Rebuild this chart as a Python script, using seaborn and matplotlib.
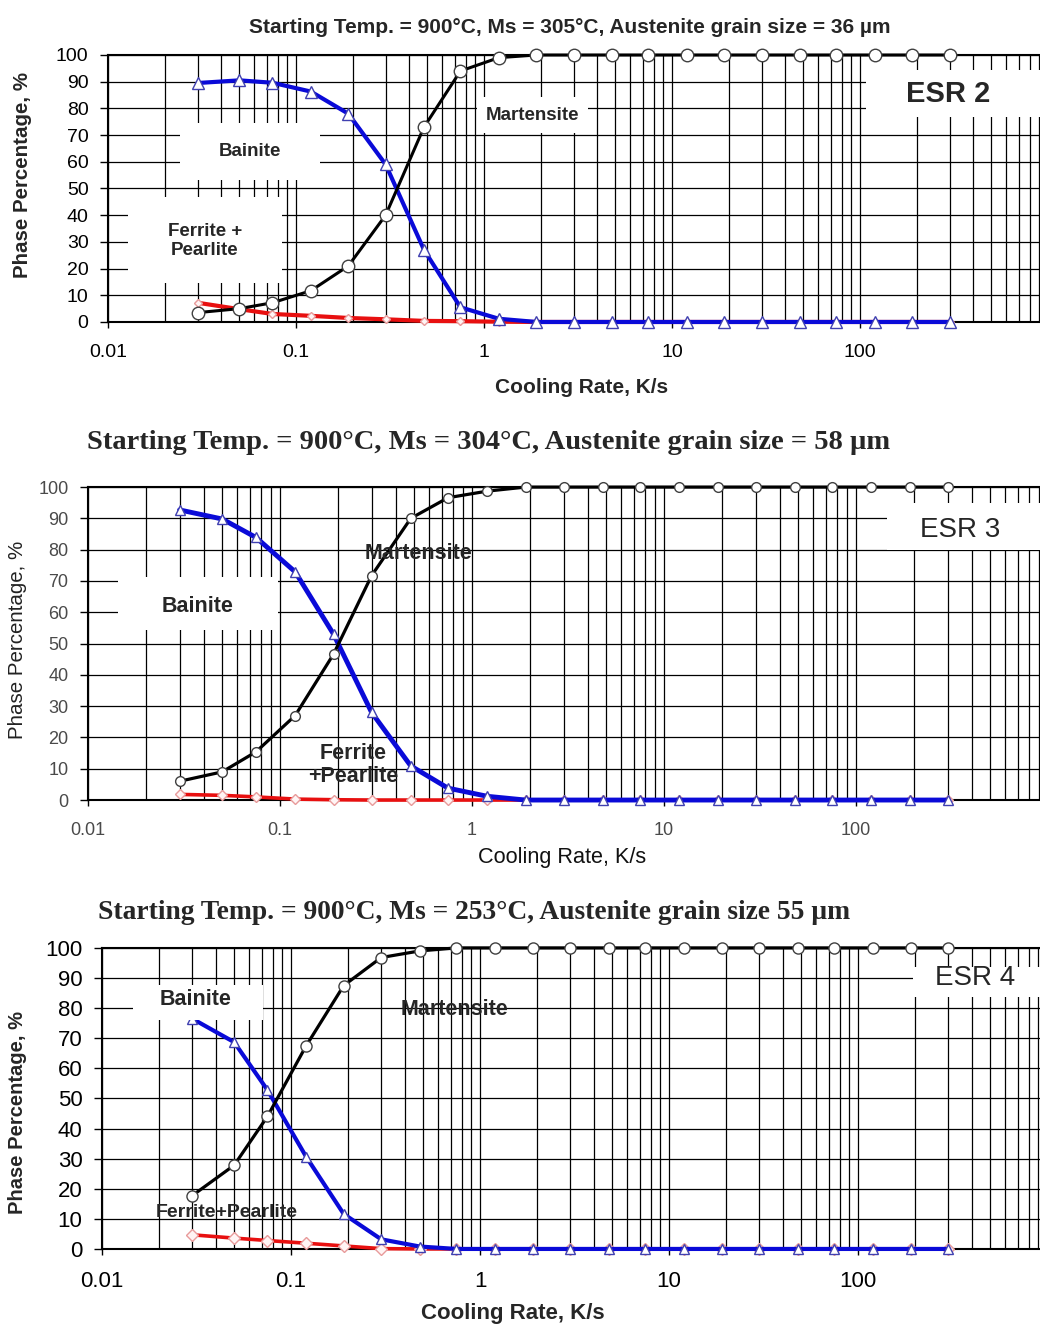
import matplotlib
matplotlib.use("Agg")
import matplotlib.pyplot as plt
import seaborn as sns
from matplotlib.patches import Rectangle

sns.set_style("ticks")
plt.rcParams['font.family'] = ['Liberation Sans', 'DejaVu Sans']
plt.rcParams['axes.unicode_minus'] = False

# cooling rates (K/s), same for all three steels
RATE = [0.03, 0.05, 0.075, 0.12, 0.19, 0.3, 0.48, 0.75, 1.2, 1.9, 3, 4.8,
        7.5, 12, 19, 30, 48, 75, 120, 190, 300]

ESR2_FP = [7.2, 4.8, 3.0, 2.3, 1.5, 1.0, 0.4, 0.3, 0.1, 0, 0, 0,
           0, 0, 0, 0, 0, 0, 0, 0, 0]
ESR2_BAIN = [89.5, 90.5, 89.6, 86.3, 78.0, 59.0, 27.0, 5.5, 1.2, 0, 0, 0,
             0, 0, 0, 0, 0, 0, 0, 0, 0]
ESR2_MART = [3.5, 5.0, 7.2, 11.7, 21.0, 40.0, 73.0, 94.0, 99.0, 100, 100, 100,
             100, 100, 100, 100, 100, 100, 100, 100, 100]

ESR3_FP = [1.8, 1.5, 1.0, 0.3, 0.1, 0, 0, 0, 0, 0, 0, 0,
           0, 0, 0, 0, 0, 0, 0, 0, 0]
ESR3_BAIN = [92.7, 89.8, 83.9, 72.9, 53.0, 28.0, 10.9, 3.8, 1.2, 0, 0, 0,
             0, 0, 0, 0, 0, 0, 0, 0, 0]
ESR3_MART = [6.0, 9.0, 15.4, 27.0, 46.6, 71.7, 90.0, 96.6, 98.7, 100, 100, 100,
             100, 100, 100, 100, 100, 100, 100, 100, 100]

ESR4_FP = [4.7, 3.6, 2.8, 1.9, 1.0, 0.1, 0, 0, 0, 0, 0, 0,
           0, 0, 0, 0, 0, 0, 0, 0, 0]
ESR4_BAIN = [76.5, 68.7, 52.8, 30.7, 11.6, 3.2, 0.8, 0, 0, 0, 0, 0,
             0, 0, 0, 0, 0, 0, 0, 0, 0]
ESR4_MART = [17.7, 27.8, 44.0, 67.4, 87.5, 96.8, 99.0, 100, 100, 100, 100, 100,
             100, 100, 100, 100, 100, 100, 100, 100, 100]

TITLES = [
    "Starting Temp. = 900°C, Ms = 305°C, Austenite grain size = 36 µm",
    "Starting Temp. = 900°C, Ms = 304°C, Austenite grain size = 58 µm",
    "Starting Temp. = 900°C, Ms = 253°C, Austenite grain size 55 µm",
]
XTICKS = [0.01, 0.1, 1, 10, 100]
XTICK_LABELS = ["0.01", "0.1", "1", "10", "100"]
YTICKS = [0, 10, 20, 30, 40, 50, 60, 70, 80, 90, 100]
MINOR = [k * 10.0 ** e for e in range(-2, 3) for k in range(2, 10)]

fig = plt.figure(figsize=(10.4, 13.25), dpi=100)


def draw_panel(rect, fp, bain, mart, lw, ms, tick_fs, tick_color):
    ax = fig.add_axes(rect)
    ax.set_xscale("log")
    sns.lineplot(x=RATE, y=fp, ax=ax, estimator=None, color="#e81010", linewidth=lw[0],
                 marker="D", markersize=ms[0], markerfacecolor="#fff4f4",
                 markeredgecolor="#e89a9a", markeredgewidth=1, clip_on=False, zorder=3)
    sns.lineplot(x=RATE, y=bain, ax=ax, estimator=None, color="#0a0ad8", linewidth=lw[1],
                 marker="^", markersize=ms[1], markerfacecolor="white",
                 markeredgecolor="#4040b0", markeredgewidth=1, clip_on=False, zorder=3.5)
    sns.lineplot(x=RATE, y=mart, ax=ax, estimator=None, color="black", linewidth=lw[2],
                 marker="o", markersize=ms[2], markerfacecolor="white",
                 markeredgecolor="#404040", markeredgewidth=1, clip_on=False, zorder=4)
    ax.set_xlim(0.01, 1000)
    ax.set_ylim(0, 100)
    ax.set_xticks(XTICKS)
    ax.set_xticks(MINOR, minor=True)
    ax.set_xticklabels(XTICK_LABELS)
    ax.set_yticks(YTICKS)
    ax.set_axisbelow(True)
    ax.grid(True, which="both", axis="x", color="black", linewidth=0.9)
    ax.grid(True, which="major", axis="y", color="black", linewidth=0.9)
    ax.tick_params(axis="y", direction="out", length=6, width=1, pad=8,
                   labelsize=tick_fs, labelcolor=tick_color, color="black")
    ax.tick_params(axis="x", which="major", direction="out", length=4, width=1, pad=12,
                   labelsize=tick_fs, labelcolor=tick_color, color="black")
    ax.tick_params(axis="x", which="minor", length=0)
    for s in ax.spines.values():
        s.set_color("black")
        s.set_linewidth(1.5)
    return ax


def box(ax, x0, y0, x1, y1):
    ax.add_patch(Rectangle((x0, y0), x1 - x0, y1 - y0, transform=ax.transAxes,
                           facecolor="white", edgecolor="none", zorder=5, clip_on=False))


def label(ax, x, y, s, fs, weight="bold"):
    ax.text(x, y, s, transform=ax.transAxes, ha="center", va="center",
            fontsize=fs, fontweight=weight, zorder=6, linespacing=1.1)


# ---- ESR 2 ----
ax1 = draw_panel([0.1038, 0.7570, 0.9038, 0.2015], ESR2_FP, ESR2_BAIN, ESR2_MART,
                 lw=(3.0, 3.0, 2.2), ms=(4, 9, 9), tick_fs=14, tick_color="black")
box(ax1, 0.0766, 0.532, 0.2255, 0.745)
box(ax1, 0.0213, 0.146, 0.185, 0.468)
box(ax1, 0.3926, 0.708, 0.5106, 0.843)
box(ax1, 0.807, 0.768, 1.0, 0.944)
label(ax1, 0.151, 0.640, "Bainite", 13.5)
label(ax1, 0.103, 0.303, "Ferrite +\nPearlite", 13.5)
label(ax1, 0.452, 0.775, "Martensite", 13.5)
label(ax1, 0.894, 0.854, "ESR 2", 21)
fig.text(0.548, 0.9796, TITLES[0], ha="center", va="center", fontsize=15, fontweight="bold")
fig.text(0.0212, 0.868, "Phase Percentage, %", rotation=90, ha="center", va="center",
         fontsize=14.8, fontweight="bold")
fig.text(0.559, 0.7072, "Cooling Rate, K/s", ha="center", va="center", fontsize=15,
         fontweight="bold")

# ---- ESR 3 ----
ax2 = draw_panel([0.0846, 0.3962, 0.9231, 0.2362], ESR3_FP, ESR3_BAIN, ESR3_MART,
                 lw=(2.6, 3.5, 2.3), ms=(5.5, 7.5, 7), tick_fs=13, tick_color="#4a4a4a")
box(ax2, 0.031, 0.543, 0.198, 0.712)
box(ax2, 0.832, 0.799, 1.0, 0.949)
label(ax2, 0.1146, 0.617, "Bainite", 15.5)
label(ax2, 0.344, 0.789, "Martensite", 15.5)
label(ax2, 0.276, 0.112, "Ferrite\n+Pearlite", 15.5)
label(ax2, 0.908, 0.863, "ESR 3", 20, weight="normal")
fig.text(0.470, 0.6657, TITLES[1], ha="center", va="center", fontsize=20.5,
         fontweight="bold", family=["Liberation Serif", "DejaVu Serif"])
fig.text(0.0173, 0.517, "Phase Percentage, %", rotation=90, ha="center", va="center",
         fontsize=14.8, color="#222222")
fig.text(0.540, 0.3532, "Cooling Rate, K/s", ha="center", va="center", fontsize=15.6,
         color="#111111")

# ---- ESR 4 ----
ax3 = draw_panel([0.0981, 0.0574, 0.9087, 0.2272], ESR4_FP, ESR4_BAIN, ESR4_MART,
                 lw=(2.6, 3.0, 2.3), ms=(6, 7, 8), tick_fs=16, tick_color="black")
box(ax3, 0.033, 0.761, 0.170, 0.877)
box(ax3, 0.858, 0.837, 1.0, 0.937)
label(ax3, 0.0995, 0.827, "Bainite", 15.5)
label(ax3, 0.3735, 0.797, "Martensite", 15.5)
label(ax3, 0.132, 0.12, "Ferrite+Pearlite", 14)
label(ax3, 0.924, 0.90, "ESR 4", 20, weight="normal")
fig.text(0.456, 0.311, TITLES[2], ha="center", va="center", fontsize=19.8,
         fontweight="bold", family=["Liberation Serif", "DejaVu Serif"])
fig.text(0.0173, 0.160, "Phase Percentage, %", rotation=90, ha="center", va="center",
         fontsize=14.5, fontweight="bold")
fig.text(0.493, 0.009, "Cooling Rate, K/s", ha="center", va="center", fontsize=16,
         fontweight="bold")

fig.savefig("out.png", dpi=100)
